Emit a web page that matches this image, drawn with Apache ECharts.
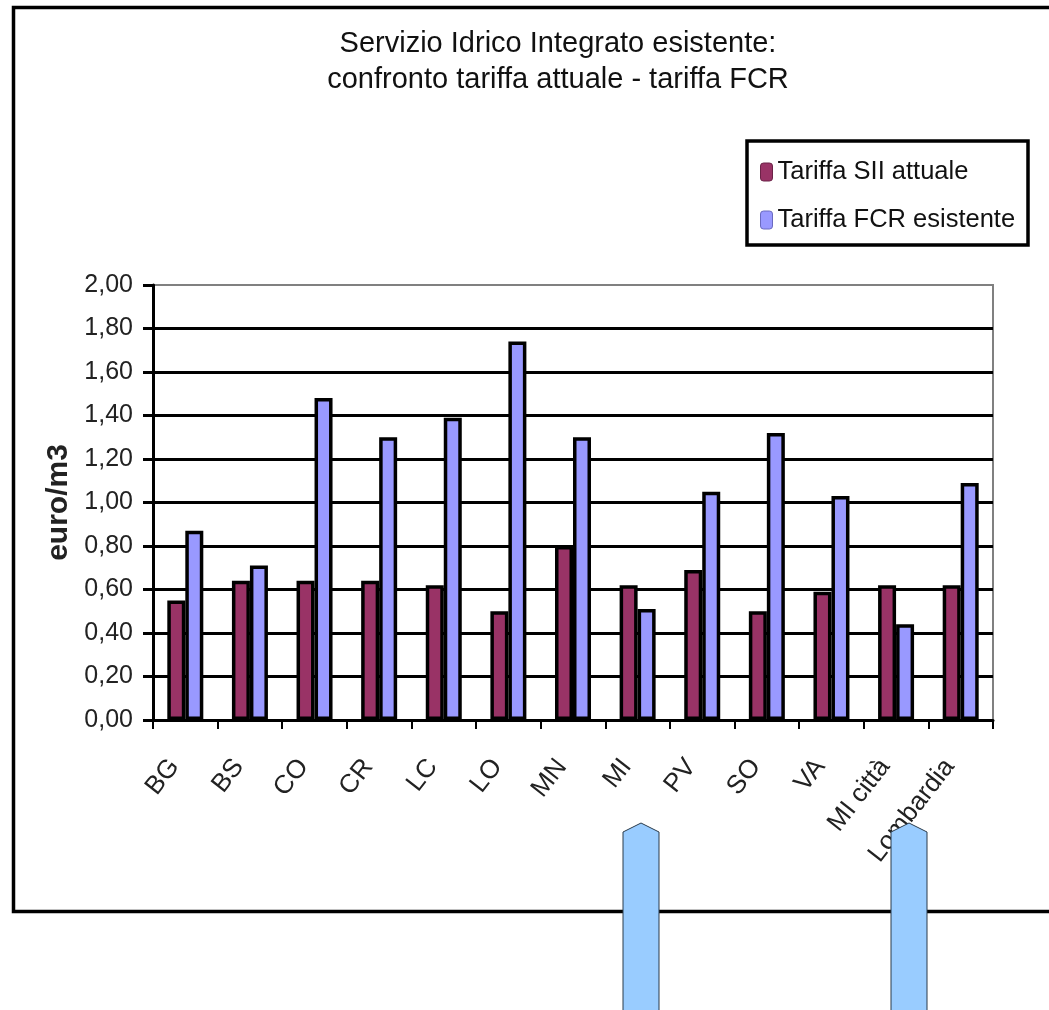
<!DOCTYPE html>
<html>
<head>
<meta charset="utf-8">
<script src="https://cdn.jsdelivr.net/npm/echarts@6/dist/echarts.min.js"></script>
<style>
html,body{margin:0;padding:0;background:#fff;}
#chart{width:1049px;height:1010px;}
</style>
</head>
<body>
<div id="chart"></div>
<script>
var categories = ['BG','BS','CO','CR','LC','LO','MN','MI','PV','SO','VA','MI città','Lombardia'];
var tariffaSII = [0.55,0.64,0.64,0.64,0.62,0.50,0.80,0.62,0.69,0.50,0.59,0.62,0.62];
var tariffaFCR = [0.87,0.71,1.48,1.30,1.39,1.74,1.30,0.51,1.05,1.32,1.03,0.44,1.09];
var seriesNames = ['Tariffa SII attuale','Tariffa FCR esistente'];
var titleLines = ['Servizio Idrico Integrato esistente:','confronto tariffa attuale - tariffa FCR'];
var yAxisName = 'euro/m3';

var FONT = '"Liberation Sans", Arial, sans-serif';
var chart = echarts.init(document.getElementById('chart'));

function arrow(cx){
  return {
    type:'polygon', z:100, silent:true,
    shape:{points:[[cx-18,832],[cx,823],[cx+18,832],[cx+18,1015],[cx-18,1015]]},
    style:{fill:'#99CCFF', stroke:'#2a3a4a', lineWidth:1}
  };
}

chart.setOption({
  animation:false,
  textStyle:{fontFamily:FONT},
  graphic:[
    {type:'rect', z:0, silent:true, shape:{x:13.5,y:7.5,width:1100,height:904}, style:{fill:null, stroke:'#000', lineWidth:3.5}},
    {type:'text', z:10, silent:true, style:{text:titleLines.join('\n'), x:558, y:62, textAlign:'center', textVerticalAlign:'middle', font:'29px '+FONT, lineHeight:36, fill:'#111'}},
    {type:'rect', z:10, silent:true, shape:{x:747,y:141,width:281,height:104}, style:{fill:'#fff', stroke:'#000', lineWidth:3.5}},
    arrow(641),
    arrow(909)
  ],
  legend:{
    orient:'vertical', left:755, top:154, z:20,
    itemWidth:12, itemHeight:18, itemGap:22,
    textStyle:{fontSize:25.5, color:'#111', fontFamily:FONT},
    data:[
      {name:seriesNames[0], itemStyle:{borderColor:'#6b2347', borderWidth:1}},
      {name:seriesNames[1], itemStyle:{borderColor:'#6a6ac0', borderWidth:1}}
    ]
  },
  grid:{left:153, right:56, top:285, bottom:290, show:true, borderColor:'#808080', borderWidth:2, backgroundColor:'transparent'},
  xAxis:{
    type:'category', data:categories,
    axisLine:{lineStyle:{color:'#000', width:3}},
    axisTick:{show:true, interval:0, length:9, lineStyle:{color:'#000', width:2}},
    axisLabel:{interval:0, rotate:52, margin:28, padding:[0,18,0,0], fontSize:26, color:'#222', fontFamily:FONT}
  },
  yAxis:{
    type:'value', min:0, max:2, interval:0.2,
    name:yAxisName, nameLocation:'middle', nameRotate:90, nameGap:48,
    nameTextStyle:{fontSize:30, fontWeight:'bold', color:'#222', fontFamily:FONT},
    axisLine:{show:true, lineStyle:{color:'#000', width:3}},
    axisTick:{show:true, length:10, lineStyle:{color:'#000', width:3}},
    axisLabel:{margin:20, fontSize:25, color:'#222', fontFamily:FONT, formatter:function(v){return v.toFixed(2).replace('.', ',');}},
    splitLine:{show:true, showMaxLine:false, lineStyle:{color:'#000', width:3}}
  },
  series:[
    {name:seriesNames[0], type:'bar', data:tariffaSII, barWidth:18, barGap:'0%',
     itemStyle:{color:'#993366', borderColor:'#000', borderWidth:3.5}},
    {name:seriesNames[1], type:'bar', data:tariffaFCR, barWidth:18, barGap:'0%',
     itemStyle:{color:'#9999FF', borderColor:'#000', borderWidth:3.5}}
  ]
});
</script>
</body>
</html>
